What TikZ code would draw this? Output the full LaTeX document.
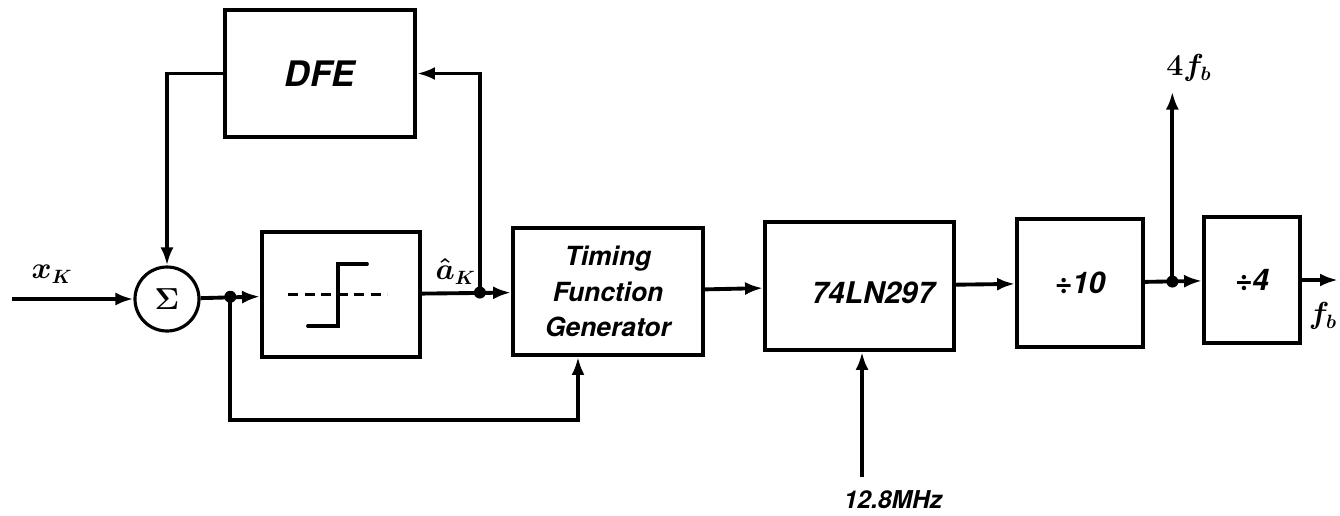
\documentclass[tikz,border=0pt]{standalone}
\usepackage{fontspec}
\setsansfont{TeX Gyre Heros}
\usetikzlibrary{arrows.meta, positioning, calc}

\begin{document}
\begin{tikzpicture}[
  block/.style={rectangle, draw, line width=2.2pt, inner sep=0pt, align=center,
                font=\sffamily\bfseries\itshape},
  sumnode/.style={circle, draw, line width=1.8pt, minimum size=1.28cm, inner sep=0pt,
                  font=\fontsize{18}{18}\selectfont\boldmath},
  arrow/.style={-{Latex[length=3.6mm,width=2.6mm]}, line width=2.2pt},
  wire/.style={line width=2.2pt},
  dot/.style={circle, fill, inner sep=0pt, minimum size=2.4mm},
  lbl/.style={inner sep=1pt, font=\fontsize{16}{18}\selectfont\boldmath}
]
\useasboundingbox (0,0) rectangle (26.8,-10.3);

\node[block, minimum width=3.8cm, minimum height=2.54cm, font=\sffamily\bfseries\itshape\fontsize{20}{22}\selectfont] (dfe) at (6.4,-1.47) {DFE};
\node[sumnode] (sum) at (3.34,-5.98) {$\Sigma$};
\node[block, minimum width=3.16cm, minimum height=2.5cm] (slicer) at (6.82,-5.89) {};
\node[block, minimum width=3.8cm, minimum height=2.54cm, font=\sffamily\bfseries\itshape\fontsize{15}{20}\selectfont] (tfg) at (12.16,-5.83) {Timing\\Function\\Generator};
\node[block, minimum width=3.78cm, minimum height=2.56cm] (ic) at (17.19,-5.72) {};
\node[font=\sffamily\bfseries\itshape\fontsize{17}{20}\selectfont] (icname) at (17.46,-5.86) {74LN297};
\node[block, minimum width=2.52cm, minimum height=2.56cm, font=\sffamily\bfseries\itshape\fontsize{17}{20}\selectfont] (div10) at (21.6,-5.66) {÷10};
\node[block, minimum width=1.92cm, minimum height=2.52cm, font=\sffamily\bfseries\itshape\fontsize{17}{20}\selectfont] (div4) at (25.04,-5.6) {÷4};

% slicer characteristic
\begin{scope}[shift={(slicer.center)}]
  \draw[wire, dash pattern=on 2mm off 1.3mm] (-1.06,0) -- (0.92,0);
  \draw[wire, line cap=round] (-0.66,-0.63) -- (-0.06,-0.63) -- (-0.06,0.61) -- (0.52,0.61);
\end{scope}

\coordinate (in) at (0.24,-5.98);
\node[lbl] (xk) at (1.04,-5.48) {$x_K$};
\draw[arrow] (in) -- (sum);

\coordinate (j1) at ($(sum.east)!0.5!(slicer.west)$);
\draw[arrow] (sum) -- (slicer);
\node[dot] (d1) at (j1) {};
\coordinate (fbk) at ($(j1)+(0,-2.46)$);
\draw[arrow] (j1) -- (fbk) -| ([xshift=-0.6cm]tfg.south);

\coordinate (j2) at ($(slicer.east)!0.65!(tfg.west)$);
\draw[arrow] (slicer) -- (tfg);
\node[dot] (d2) at (j2) {};
\node[lbl, above left=0.12cm and 0.04cm of j2] (ahat) {$\hat{a}_K$};
\draw[arrow] (j2) |- (dfe.east);
\draw[arrow] (dfe.west) -| (sum.north);

\draw[arrow] (tfg) -- (ic);

\coordinate (clk) at (17.24,-9.54);
\draw[arrow] (clk) -- (clk |- ic.south);
\node[font=\sffamily\bfseries\itshape\fontsize{14}{15}\selectfont] (mhz) at (17.86,-10.0) {12.8MHz};

\draw[arrow] (ic) -- (div10);

\coordinate (j3) at ($(div10.east)!0.48!(div4.west)$);
\draw[arrow] (div10) -- (div4);
\node[dot] (d3) at (j3) {};
\coordinate (four) at ($(j3)+(0,3.8)$);
\draw[arrow] (j3) -- (four);
\node[lbl] (fourlbl) at (23.78,-1.36) {$4f_b$};

\coordinate (fout) at (26.76,-5.6);
\draw[arrow] (div4) -- (fout);
\node[lbl] (fblbl) at (26.46,-6.32) {$f_b$};
\end{tikzpicture}
\end{document}
